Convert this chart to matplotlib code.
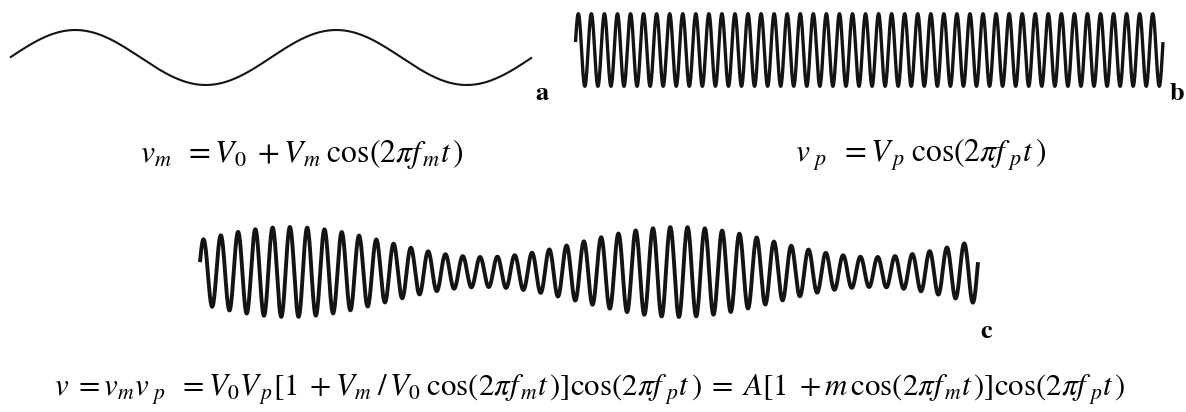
import numpy as np
import matplotlib
matplotlib.use('Agg')
import matplotlib.pyplot as plt

plt.rcParams['mathtext.fontset'] = 'stix'
plt.rcParams['font.family'] = ['STIXGeneral', 'DejaVu Serif']

# waveform parameters
# (t runs 0..1 across each strip)
mod_cycles = 2.0        # panel a: modulating signal
mod_phase = 0.0
car_cycles = 45.0       # panel b: carrier
car_phase = 0.035
am_cycles_c = 2.0       # panel c: AM signal
am_phase_c = 0.02
car_phase_c = 0.05
A = 1.0
m = 0.5

labels = ['a', 'b', 'c']
eq_a = r'$v_m\;\; = V_0\; + V_m\;\cos(2\pi f_{\,m} t\,)$'
eq_b = r'$v_{\ p}\;\; = V_{\,p}\;\cos(2\pi f_{\ p} t\,)$'
eq_c = (r'$v\; = v_m v_{\ p}\;\; = V_0 V_{\,p}[1\; + V_m\; /\, V_0\;\cos(2\pi f_{\,m} t\,)]'
        r'\cos(2\pi f_{\ p} t\,)\; = \;A[1\; + m\,\cos(2\pi f_{\,m} t\,)]\cos(2\pi f_{\ p} t\,)$')

W, H = 1186, 412
fig = plt.figure(figsize=(W / 100, H / 100), dpi=100)
fig.patch.set_facecolor('white')


def strip(x0, x1, ytop, ybot):
    # axes placed by pixel box (y measured from the top)
    ax = fig.add_axes([x0 / W, 1 - ybot / H, (x1 - x0) / W, (ybot - ytop) / H])
    ax.set_axis_off()
    ax.set_xlim(0, 1)
    return ax


t = np.linspace(0, 1, 6000)
ink = '#141414'

# a: modulating signal
ax = strip(10, 532, 30, 85)
ax.plot(t, np.sin(2 * np.pi * (mod_cycles * t + mod_phase)),
        color=ink, lw=1.5, clip_on=False, solid_capstyle='butt')
ax.set_ylim(-1, 1)

# b: carrier
ax = strip(575.5, 1163, 13.7, 86.3)
ax.plot(t, np.sin(2 * np.pi * (car_cycles * t + car_phase)),
        color=ink, lw=2.4, clip_on=False, solid_capstyle='butt')
ax.set_ylim(-1, 1)

# c: amplitude modulated signal
ax = strip(200, 978, 227, 317)
env = A * (1 + m * np.sin(2 * np.pi * (am_cycles_c * t + am_phase_c)))
ax.plot(t, env * np.sin(2 * np.pi * (car_cycles * t + car_phase_c)),
        color=ink, lw=2.8, clip_on=False, solid_capstyle='butt')
ax.set_ylim(-A * (1 + m), A * (1 + m))

# panel letters
for lab, (x, y) in zip(labels, [(535, 100), (1170, 100), (980, 338)]):
    fig.text(x / W, 1 - y / H, lab, fontsize=19, fontweight='bold',
             ha='left', va='baseline', color='black')

# equations
fig.text(140 / W, 1 - 162 / H, eq_a, fontsize=22.8, ha='left', va='baseline')
fig.text(795 / W, 1 - 162 / H, eq_b, fontsize=22.8, ha='left', va='baseline')
fig.text(54 / W, 1 - 397 / H, eq_c, fontsize=22.2, ha='left', va='baseline')

fig.savefig('out.png', dpi=100, facecolor='white')
